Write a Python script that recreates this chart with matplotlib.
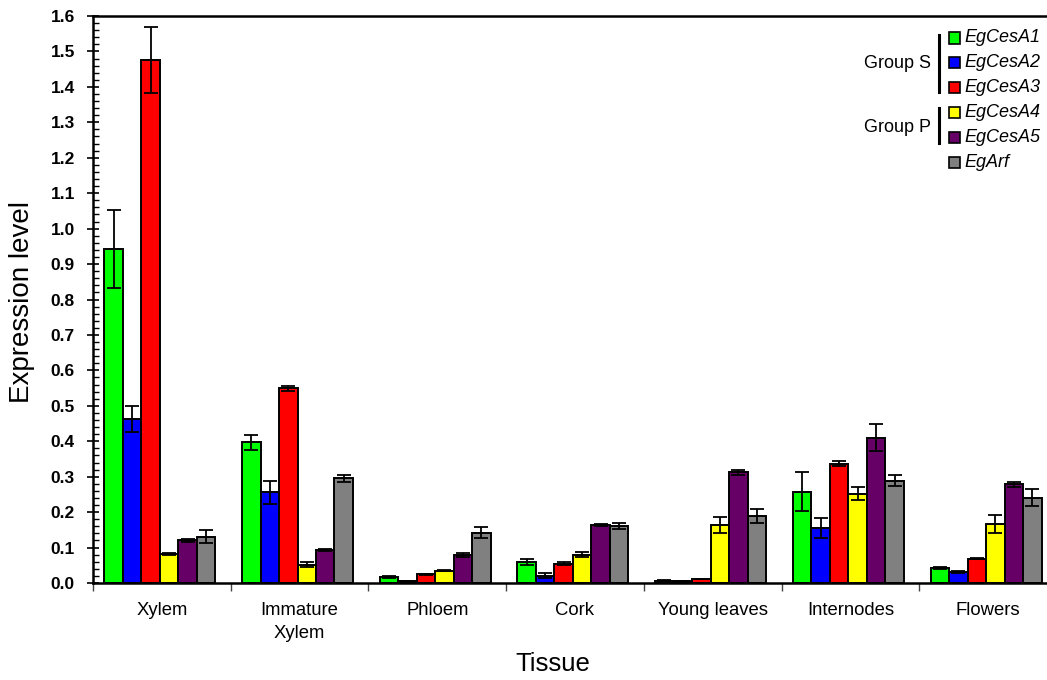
import matplotlib
matplotlib.use("Agg")
import matplotlib.pyplot as plt
from matplotlib.patches import Rectangle
from matplotlib.lines import Line2D
from matplotlib.ticker import MultipleLocator
import numpy as np

plt.rcParams['font.family'] = ['Liberation Sans', 'DejaVu Sans']

tissues = ["Xylem", "Immature\nXylem", "Phloem", "Cork", "Young leaves", "Internodes", "Flowers"]
genes = ["EgCesA1", "EgCesA2", "EgCesA3", "EgCesA4", "EgCesA5", "EgArf"]
colors = ["#00FF00", "#0000FF", "#FF0000", "#FFFF00", "#660066", "#808080"]

cesa1 = [0.942, 0.397, 0.016, 0.059, 0.007, 0.258, 0.042]
cesa2 = [0.463, 0.256, 0.005, 0.021, 0.006, 0.155, 0.031]
cesa3 = [1.477, 0.550, 0.024, 0.055, 0.011, 0.336, 0.069]
cesa4 = [0.082, 0.052, 0.035, 0.080, 0.163, 0.252, 0.167]
cesa5 = [0.121, 0.093, 0.079, 0.164, 0.312, 0.410, 0.278]
arf   = [0.131, 0.295, 0.142, 0.160, 0.189, 0.289, 0.241]

err1 = [0.110, 0.022, 0.003, 0.008, 0.001, 0.054, 0.003]
err2 = [0.036, 0.032, 0.001, 0.007, 0.001, 0.028, 0.004]
err3 = [0.093, 0.007, 0.001, 0.003, 0.001, 0.007, 0.002]
err4 = [0.003, 0.007, 0.002, 0.007, 0.022, 0.019, 0.025]
err5 = [0.004, 0.002, 0.005, 0.003, 0.006, 0.038, 0.006]
errA = [0.019, 0.011, 0.016, 0.009, 0.019, 0.015, 0.025]

series = [cesa1, cesa2, cesa3, cesa4, cesa5, arf]
errors = [err1, err2, err3, err4, err5, errA]

W, H = 1047, 680
fig = plt.figure(figsize=(W / 100, H / 100), dpi=100)
ax = fig.add_axes([93 / W, 1 - 583 / H, (1057 - 93) / W, (583 - 16) / H])

x = np.arange(len(tissues))
bw = 0.1343
for k, (vals, errs, c) in enumerate(zip(series, errors, colors)):
    pos = x + (k - 2.5) * bw - 0.015
    ax.bar(pos, vals, width=bw, color=c, edgecolor='black', linewidth=1.4, zorder=2)
    ax.errorbar(pos, vals, yerr=errs, fmt='none', ecolor='black', elinewidth=1.3,
                capsize=5, capthick=1.3, zorder=3)

ax.set_xlim(-0.5, len(tissues) - 0.5)
ax.set_ylim(0, 1.6)

yt = np.round(np.arange(0, 1.61, 0.1), 1)
ax.set_yticks(yt)
ax.set_yticklabels([f"{v:.1f}" for v in yt], fontsize=12.5, fontweight='bold')
ax.yaxis.set_minor_locator(MultipleLocator(0.02))
ax.tick_params(axis='y', which='major', direction='inout', length=8, width=1.2, pad=9)
ax.tick_params(axis='y', which='minor', direction='in', length=4, width=1.0)

ax.set_xticks(list(np.arange(-0.5, len(tissues) + 0.5, 1.0)))
ax.set_xticklabels([])
ax.set_xticks(x, minor=True)
ax.set_xticklabels(tissues, minor=True, fontsize=13.3, linespacing=1.45)
ax.tick_params(axis='x', which='major', direction='out', length=6, width=1.0, color='#444444')
ax.tick_params(axis='x', which='minor', length=0, pad=14)

for s in ['left', 'top', 'bottom']:
    ax.spines[s].set_linewidth(1.8)
    ax.spines[s].set_color('black')
ax.spines['right'].set_visible(False)

fig.text(22 / W, 1 - 302 / H, "Expression level", rotation=90, ha='center', va='center', fontsize=20)
fig.text(553 / W, 1 - 664 / H, "Tissue", ha='center', va='center', fontsize=18.5)

# legend
rows_y = [38, 62.7, 87.7, 112.7, 137.3, 162.7]
for gname, c, yy in zip(genes, colors, rows_y):
    fig.patches.append(Rectangle((948.5 / W, 1 - (yy + 5.5) / H), 11 / W, 11 / H,
                                 transform=fig.transFigure, facecolor=c, edgecolor='black',
                                 linewidth=1.2, figure=fig))
    fig.text(964 / W, 1 - yy / H, gname, ha='left', va='center', fontsize=13, style='italic')

fig.lines.append(Line2D([939 / W, 939 / W], [1 - 35 / H, 1 - 92 / H], transform=fig.transFigure,
                        color='black', linewidth=2.2))
fig.lines.append(Line2D([939 / W, 939 / W], [1 - 108 / H, 1 - 143 / H], transform=fig.transFigure,
                        color='black', linewidth=2.2))
fig.text(931 / W, 1 - 64 / H, "Group S", ha='right', va='center', fontsize=13)
fig.text(931 / W, 1 - 127 / H, "Group P", ha='right', va='center', fontsize=13)

fig.savefig("out.png", dpi=100)
